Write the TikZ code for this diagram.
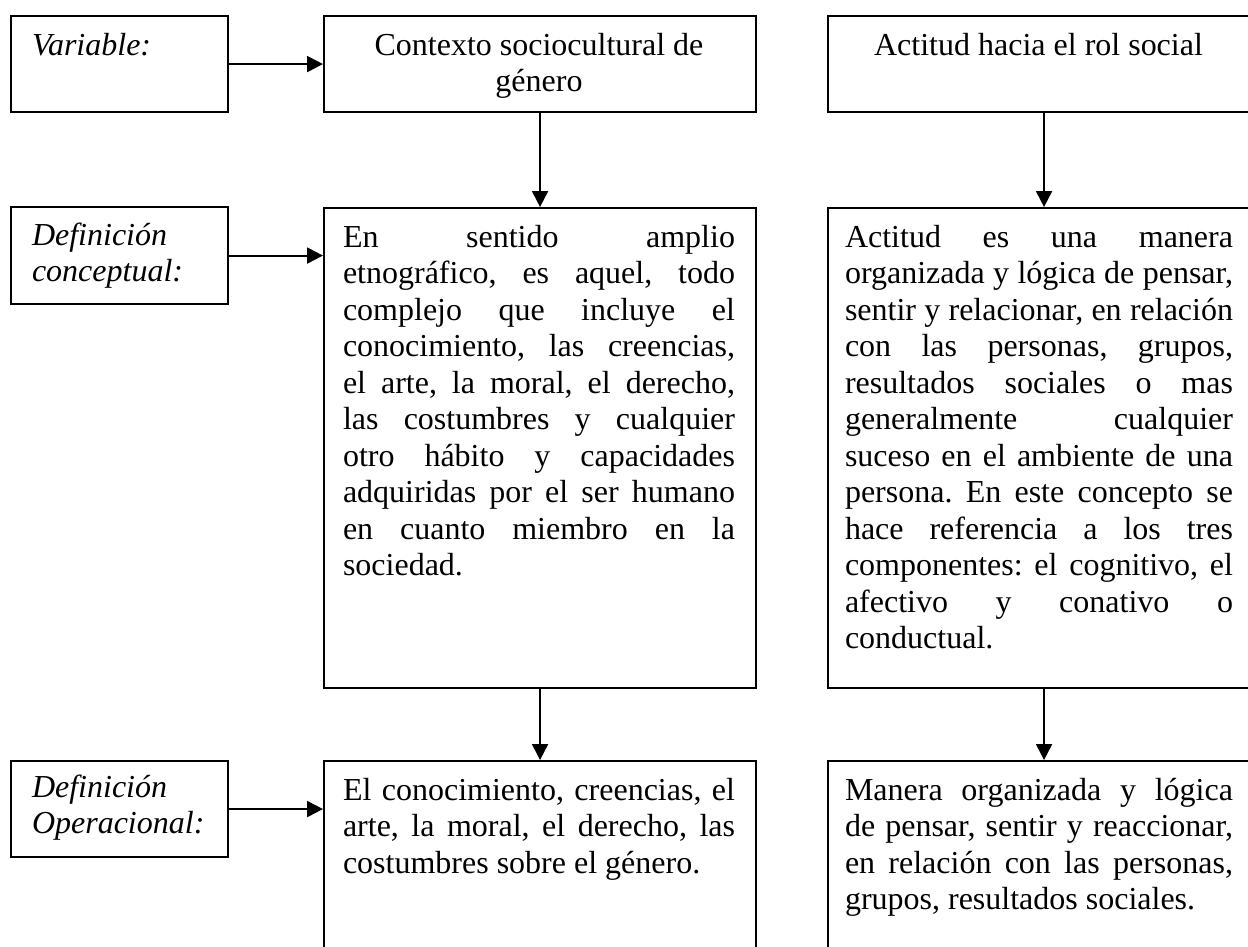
\documentclass[tikz,border=0pt]{standalone}
\usepackage{fontspec}
\setmainfont{Liberation Serif}
\usetikzlibrary{arrows.meta}
\newcommand\jline[2]{\hbox to #1{#2}}
\newcommand\lline[1]{\hbox{#1}}
\frenchspacing
\begin{document}
\begin{tikzpicture}[x=1pt,y=-1pt,
  box/.style={draw, line width=2.1pt, rectangle, inner sep=0pt, anchor=north west},
  txt/.style={inner sep=0pt, outer sep=0pt, anchor=base west, font=\fontsize{32}{36.5}\selectfont},
  arr/.style={line width=2.1pt, -{Triangle[length=16pt,width=16pt]}}]
\useasboundingbox (0,0) rectangle (1248,946);
\clip (0,0) rectangle (1248,946);
\fill[white] (0,0) rectangle (1248,946);
% boxes
\node[box, minimum width=217pt, minimum height=96pt] (var) at (10,15) {};
\node[box, minimum width=432pt, minimum height=96pt] (ctx) at (323,15) {};
\node[box, minimum width=432pt, minimum height=96pt] (act) at (827,15) {};
\node[box, minimum width=217pt, minimum height=97pt] (dc) at (10,206) {};
\node[box, minimum width=432pt, minimum height=480pt] (mid) at (323,207) {};
\node[box, minimum width=432pt, minimum height=480pt] (rgt) at (827,207) {};
\node[box, minimum width=217pt, minimum height=96pt] (dop) at (10,760) {};
\node[box, minimum width=432pt, minimum height=260pt] (bmid) at (323,760) {};
\node[box, minimum width=432pt, minimum height=260pt] (brgt) at (827,760) {};
% texts
\node[txt] (tvar) at (32,55) {\itshape Variable:};
\node[txt] (tctx) at (323,55) {\vtop{\hbox to 432pt{\hfil Contexto sociocultural de\hfil}\hbox to 432pt{\hfil género\hfil}}};
\node[txt, anchor=base] (tact) at (1038.5,55) {Actitud hacia el rol social};
\node[txt] (tdc) at (32,245) {\itshape\vtop{\lline{Definición}\lline{conceptual:}}};
\node[txt] (tdop) at (32,797) {\itshape\vtop{\lline{Definición}\lline{Operacional:}}};
\node[txt] (tmid) at (343,247) {\vtop{%
\jline{392pt}{En sentido amplio}
\jline{392pt}{etnográfico, es aquel, todo}
\jline{392pt}{complejo que incluye el}
\jline{392pt}{conocimiento, las creencias,}
\jline{392pt}{el arte, la moral, el derecho,}
\jline{392pt}{las costumbres y cualquier}
\jline{392pt}{otro hábito y capacidades}
\jline{392pt}{adquiridas por el ser humano}
\jline{392pt}{en cuanto miembro en la}
\lline{sociedad.}}};
\node[txt] (trgt) at (845,247) {\vtop{%
\jline{388pt}{Actitud es una manera}
\jline{388pt}{organizada y lógica de pensar,}
\jline{388pt}{sentir y relacionar, en relación}
\jline{388pt}{con las personas, grupos,}
\jline{388pt}{resultados sociales o mas}
\jline{388pt}{generalmente cualquier}
\jline{388pt}{suceso en el ambiente de una}
\jline{388pt}{persona. En este concepto se}
\jline{388pt}{hace referencia a los tres}
\jline{388pt}{componentes: el cognitivo, el}
\jline{388pt}{afectivo y conativo o}
\lline{conductual.}}};
\node[txt] (tbmid) at (343,800) {\vtop{%
\jline{392pt}{El conocimiento, creencias, el}
\jline{392pt}{arte, la moral, el derecho, las}
\lline{costumbres sobre el género.}}};
\node[txt] (tbrgt) at (845,800) {\vtop{%
\jline{388pt}{Manera organizada y lógica}
\jline{388pt}{de pensar, sentir y reaccionar,}
\jline{388pt}{en relación con las personas,}
\lline{grupos, resultados sociales.}}};
% arrows
\draw[arr] (var.east) -- (ctx.west);
\draw[arr] (dc.east) -- (mid.west |- dc.east);
\draw[arr] (dop.east) -- (bmid.west |- dop.east);
\draw[arr] (ctx.south) -- (mid.north);
\draw[arr] (act.south) -- (rgt.north);
\draw[arr] (mid.south) -- (bmid.north);
\draw[arr] (rgt.south) -- (brgt.north);
\end{tikzpicture}
\end{document}
